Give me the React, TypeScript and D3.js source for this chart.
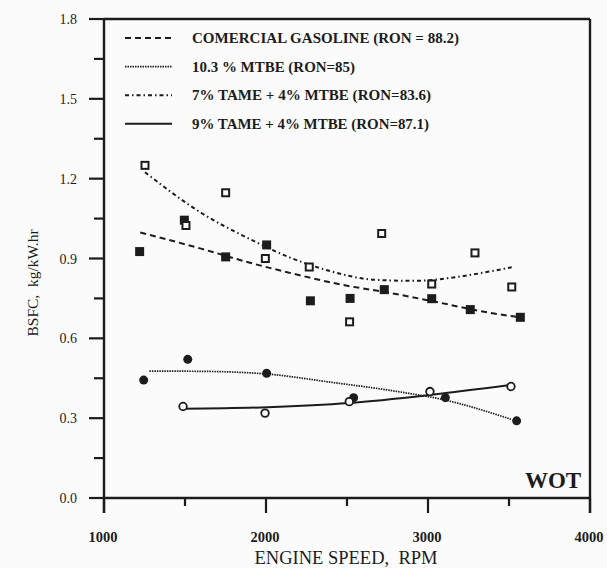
import React from "react";
import * as d3 from "d3";

const W = 607, H = 568;

// Data (RPM, BSFC kg/kW.hr)
const comRpm = [1220, 1496, 1751, 2004, 2274, 2519, 2730, 3023, 3261, 3570];
const comVal = [0.926, 1.044, 0.906, 0.951, 0.741, 0.750, 0.783, 0.749, 0.708, 0.679];
const mtbeRpm = [1245, 1517, 2004, 2541, 3107, 3547];
const mtbeVal = [0.443, 0.521, 0.469, 0.377, 0.377, 0.290];
const tame7Rpm = [1253, 1506, 1751, 1996, 2267, 2516, 2714, 3023, 3290, 3517];
const tame7Val = [1.25, 1.024, 1.147, 0.900, 0.868, 0.662, 0.994, 0.804, 0.921, 0.793];
const tame9Rpm = [1488, 1994, 2514, 3012, 3512];
const tame9Val = [0.344, 0.319, 0.362, 0.400, 0.419];

// Fitted curves
const comFitRpm = [1224, 1599, 1907, 2195, 2463, 2772, 3080, 3389, 3570];
const comFitVal = [0.998, 0.937, 0.883, 0.839, 0.802, 0.770, 0.733, 0.695, 0.679];
const tame7FitRpm = [1253, 1599, 1907, 2154, 2401, 2669, 2915, 3183, 3389, 3517];
const tame7FitVal = [1.224, 1.072, 0.971, 0.902, 0.852, 0.820, 0.816, 0.831, 0.852, 0.867];
const mtbeFitRpm = [1280, 1600, 2004, 2401, 2813, 3099, 3512];
const mtbeFitVal = [0.477, 0.476, 0.466, 0.435, 0.400, 0.369, 0.296];
const tame9FitRpm = [1488, 2010, 2514, 3019, 3512];
const tame9FitVal = [0.335, 0.341, 0.357, 0.388, 0.425];

const legendLabels = [
  "COMERCIAL GASOLINE (RON = 88.2)",
  "10.3 % MTBE (RON=85)",
  "7% TAME + 4% MTBE (RON=83.6)",
  "9% TAME + 4% MTBE (RON=87.1)",
];
const legendDash = ["6,4", "1.5,1", "4,3,1.5,3", ""];
const legendWidths = [267, 163, 239, 237];

const yTicks = [0.0, 0.3, 0.6, 0.9, 1.2, 1.5, 1.8];
const yMinor = [0.15, 0.45, 0.75, 1.05, 1.35, 1.65];
const xTicks = [1000, 2000, 3000, 4000];
const xMinor = [1500, 2500, 3500];

const INK = "#1c1c1c";
const BG = "#fbfbfb";
const serif = "'Liberation Serif', 'DejaVu Serif', serif";

export default function App() {
  const x = d3.scaleLinear().domain([1000, 4000]).range([104, 590]);
  const y = d3.scaleLinear().domain([0, 1.8]).range([498, 19]);
  const zip = (a: number[], b: number[]) => a.map((v, i) => [v, b[i]] as [number, number]);
  const line = d3
    .line<[number, number]>()
    .x((d) => x(d[0]))
    .y((d) => y(d[1]))
    .curve(d3.curveMonotoneX);

  const fits = [
    { d: zip(comFitRpm, comFitVal), dash: legendDash[0], w: 2 },
    { d: zip(mtbeFitRpm, mtbeFitVal), dash: legendDash[1], w: 1.7 },
    { d: zip(tame7FitRpm, tame7FitVal), dash: legendDash[2], w: 2 },
    { d: zip(tame9FitRpm, tame9FitVal), dash: legendDash[3], w: 2 },
  ];

  return (
    <svg width={W} height={H} style={{ position: "absolute", left: 0, top: 0, background: BG }}>
      <rect x={0} y={0} width={W} height={H} fill={BG} />
      {/* frame */}
      <line x1={x(1000)} x2={x(4000)} y1={y(1.8)} y2={y(1.8)} stroke={INK} strokeWidth={2.4} />
      <line x1={x(1000)} x2={x(4000)} y1={y(0)} y2={y(0)} stroke={INK} strokeWidth={2.4} />
      <line x1={x(1000)} x2={x(1000)} y1={y(1.8)} y2={y(0) + 15} stroke={INK} strokeWidth={2.4} />
      <line x1={x(4000)} x2={x(4000)} y1={y(1.8)} y2={y(0) + 15} stroke={INK} strokeWidth={2.4} />
      {/* y ticks */}
      {yTicks.map((t) => (
        <g key={"yt" + t}>
          <line x1={x(1000) - 15} x2={x(1000)} y1={y(t)} y2={y(t)} stroke={INK} strokeWidth={2.2} />
          <text x={77} y={y(t) + 5} textAnchor="end" fontFamily={serif} fontSize={14} fill={INK}>
            {t.toFixed(1)}
          </text>
        </g>
      ))}
      {yMinor.map((t) => (
        <line key={"ym" + t} x1={x(1000) - 10} x2={x(1000)} y1={y(t)} y2={y(t)} stroke={INK} strokeWidth={2.2} />
      ))}
      {/* x ticks */}
      {xTicks.map((t) => (
        <g key={"xt" + t}>
          <line x1={x(t)} x2={x(t)} y1={y(0)} y2={y(0) + 15} stroke={INK} strokeWidth={2.2} />
          <text x={x(t) - 1} y={542} textAnchor="middle" fontFamily={serif} fontSize={14.5} fontWeight="bold" fill={INK}>
            {t}
          </text>
        </g>
      ))}
      {xMinor.map((t) => (
        <line key={"xm" + t} x1={x(t)} x2={x(t)} y1={y(0)} y2={y(0) + 8} stroke={INK} strokeWidth={2.2} />
      ))}
      {/* axis titles */}
      <text x={346} y={564} textAnchor="middle" fontFamily={serif} fontSize={18.5} fill={INK} style={{ whiteSpace: "pre" }}>
        {"ENGINE SPEED,  RPM"}
      </text>
      <text
        transform={`translate(38,${283}) rotate(-90)`}
        textAnchor="middle"
        fontFamily={serif}
        fontSize={15.5}
        fill={INK}
        style={{ whiteSpace: "pre" }}
      >
        {"BSFC,  kg/kW.hr"}
      </text>
      <text x={553} y={488} textAnchor="middle" fontFamily={serif} fontSize={23} fontWeight="bold" fill={INK}>
        WOT
      </text>
      {/* legend */}
      {legendLabels.map((lab, i) => {
        const ly = 38 + i * 28.6;
        return (
          <g key={"lg" + i}>
            <line x1={125} x2={172} y1={ly} y2={ly} stroke={INK} strokeWidth={1.9} strokeDasharray={legendDash[i]} />
            <text
              x={192}
              y={ly + 5}
              fontFamily={serif}
              fontSize={14}
              fontWeight="bold"
              fill={INK}
              textLength={legendWidths[i]}
              lengthAdjust="spacingAndGlyphs"
            >
              {lab}
            </text>
          </g>
        );
      })}
      {/* fit curves */}
      {fits.map((f, i) => (
        <path key={"fit" + i} d={line(f.d) || ""} fill="none" stroke={INK} strokeWidth={f.w} strokeDasharray={f.dash} />
      ))}
      {/* markers */}
      {comRpm.map((r, i) => (
        <rect key={"cs" + i} x={x(r) - 4.5} y={y(comVal[i]) - 4.5} width={9} height={9} fill={INK} />
      ))}
      {tame7Rpm.map((r, i) => (
        <rect key={"ts" + i} x={x(r) - 3.5} y={y(tame7Val[i]) - 3.5} width={7} height={7} fill={BG} stroke={INK} strokeWidth={2} />
      ))}
      {mtbeRpm.map((r, i) => (
        <circle key={"mc" + i} cx={x(r)} cy={y(mtbeVal[i])} r={4.5} fill={INK} />
      ))}
      {tame9Rpm.map((r, i) => (
        <circle key={"tc" + i} cx={x(r)} cy={y(tame9Val[i])} r={3.8} fill={BG} stroke={INK} strokeWidth={1.8} />
      ))}
    </svg>
  );
}
